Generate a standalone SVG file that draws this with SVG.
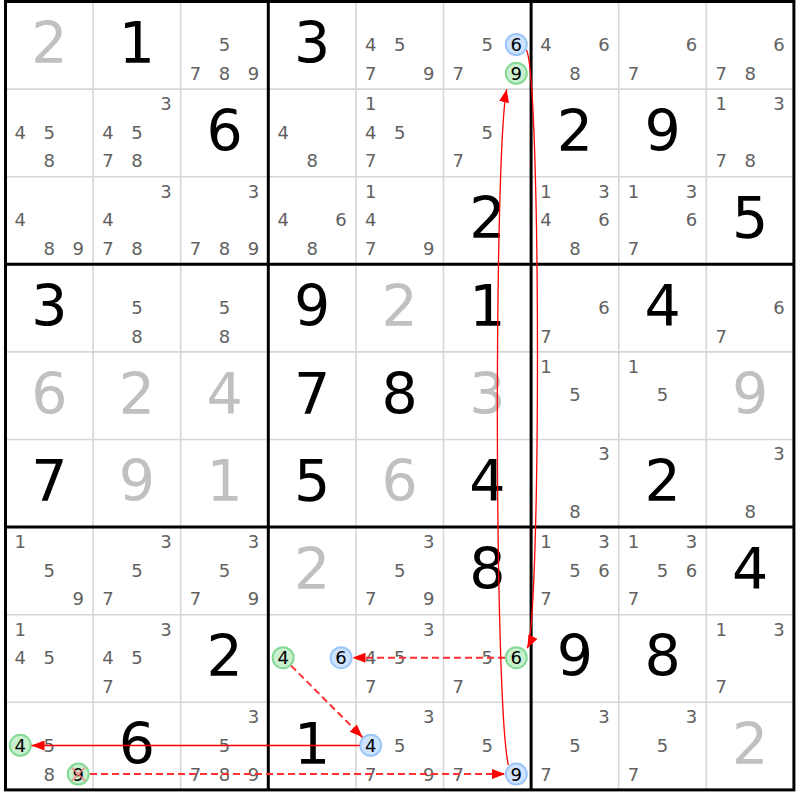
<svg xmlns="http://www.w3.org/2000/svg" width="800" height="800" viewBox="0 0 800 800">
<style>
.thin{stroke:#d6d6d6;stroke-width:1.6}
.thick{stroke:#000;stroke-width:3;fill:none}
text{font-family:"DejaVu Sans","Liberation Sans",sans-serif;text-anchor:middle}
.c{font-size:18px;fill:#616161}
.k{font-size:18px;fill:#000}
.b{font-size:57px;fill:#000}
.g{font-size:57px;fill:#c0c0c0}
.blue{fill:#cde3ff;stroke:#9cc6f7;stroke-width:2}
.green{fill:#c9f1cf;stroke:#84d994;stroke-width:2}
.x{stroke:#ff7a7a;stroke-width:2;opacity:0.75}
.link{fill:none;stroke:#f00;stroke-width:1.3}
.weak{fill:none;stroke:#ff3030;stroke-width:2;stroke-dasharray:7 4}
</style>
<defs>
<marker id="ah" viewBox="0 0 13 10" refX="13" refY="5" markerWidth="13" markerHeight="10" markerUnits="userSpaceOnUse" orient="auto">
<path d="M0,0 L13,5 L0,10 z" fill="#f00"/>
</marker>
</defs>
<rect x="0" y="0" width="800" height="800" fill="#fff"/>
<g id="grid">
<path class="thin" d="M93.1,1.5V789.9M180.7,1.5V789.9M355.9,1.5V789.9M443.5,1.5V789.9M618.7,1.5V789.9M706.3,1.5V789.9M5.5,89.1H793.9M5.5,176.7H793.9M5.5,351.9H793.9M5.5,439.5H793.9M5.5,614.7H793.9M5.5,702.3H793.9"/>
<path class="thick" d="M268.3,1.5V789.9M531.1,1.5V789.9M5.5,264.3H793.9M5.5,527.1H793.9"/>
<rect class="thick" x="5.5" y="1.5" width="788.4" height="788.4"/>
</g>
<!-- row 0 -->
<g id="r0c0" transform="translate(49.3,45.3)"><text class="g" y="17.8">2</text></g>
<g id="r0c1" transform="translate(136.9,45.3)"><text class="b" y="17.8">1</text></g>
<g id="r0c2" transform="translate(224.5,45.3)"><text class="c" x="0" y="5.7">5</text><text class="c" x="-29" y="34.5">7</text><text class="c" x="0" y="34.5">8</text><text class="c" x="29" y="34.5">9</text></g>
<g id="r0c3" transform="translate(312.1,45.3)"><text class="b" y="17.8">3</text></g>
<g id="r0c4" transform="translate(399.7,45.3)"><text class="c" x="-29" y="5.7">4</text><text class="c" x="0" y="5.7">5</text><text class="c" x="-29" y="34.5">7</text><text class="c" x="29" y="34.5">9</text></g>
<g id="r0c5" transform="translate(487.3,45.3)"><text class="c" x="0" y="5.7">5</text><circle class="blue" cx="29" cy="-0.8" r="10.5"/><text class="k" x="29" y="5.7">6</text><text class="c" x="-29" y="34.5">7</text><circle class="green" cx="29" cy="28" r="10.5"/><text class="k" x="29" y="34.5">9</text></g>
<g id="r0c6" transform="translate(574.9,45.3)"><text class="c" x="-29" y="5.7">4</text><text class="c" x="29" y="5.7">6</text><text class="c" x="0" y="34.5">8</text></g>
<g id="r0c7" transform="translate(662.5,45.3)"><text class="c" x="29" y="5.7">6</text><text class="c" x="-29" y="34.5">7</text></g>
<g id="r0c8" transform="translate(750.1,45.3)"><text class="c" x="29" y="5.7">6</text><text class="c" x="-29" y="34.5">7</text><text class="c" x="0" y="34.5">8</text></g>
<!-- row 1 -->
<g id="r1c0" transform="translate(49.3,132.9)"><text class="c" x="-29" y="5.7">4</text><text class="c" x="0" y="5.7">5</text><text class="c" x="0" y="34.5">8</text></g>
<g id="r1c1" transform="translate(136.9,132.9)"><text class="c" x="29" y="-23">3</text><text class="c" x="-29" y="5.7">4</text><text class="c" x="0" y="5.7">5</text><text class="c" x="-29" y="34.5">7</text><text class="c" x="0" y="34.5">8</text></g>
<g id="r1c2" transform="translate(224.5,132.9)"><text class="b" y="17.8">6</text></g>
<g id="r1c3" transform="translate(312.1,132.9)"><text class="c" x="-29" y="5.7">4</text><text class="c" x="0" y="34.5">8</text></g>
<g id="r1c4" transform="translate(399.7,132.9)"><text class="c" x="-29" y="-23">1</text><text class="c" x="-29" y="5.7">4</text><text class="c" x="0" y="5.7">5</text><text class="c" x="-29" y="34.5">7</text></g>
<g id="r1c5" transform="translate(487.3,132.9)"><text class="c" x="0" y="5.7">5</text><text class="c" x="-29" y="34.5">7</text></g>
<g id="r1c6" transform="translate(574.9,132.9)"><text class="b" y="17.8">2</text></g>
<g id="r1c7" transform="translate(662.5,132.9)"><text class="b" y="17.8">9</text></g>
<g id="r1c8" transform="translate(750.1,132.9)"><text class="c" x="-29" y="-23">1</text><text class="c" x="29" y="-23">3</text><text class="c" x="-29" y="34.5">7</text><text class="c" x="0" y="34.5">8</text></g>
<!-- row 2 -->
<g id="r2c0" transform="translate(49.3,220.5)"><text class="c" x="-29" y="5.7">4</text><text class="c" x="0" y="34.5">8</text><text class="c" x="29" y="34.5">9</text></g>
<g id="r2c1" transform="translate(136.9,220.5)"><text class="c" x="29" y="-23">3</text><text class="c" x="-29" y="5.7">4</text><text class="c" x="-29" y="34.5">7</text><text class="c" x="0" y="34.5">8</text></g>
<g id="r2c2" transform="translate(224.5,220.5)"><text class="c" x="29" y="-23">3</text><text class="c" x="-29" y="34.5">7</text><text class="c" x="0" y="34.5">8</text><text class="c" x="29" y="34.5">9</text></g>
<g id="r2c3" transform="translate(312.1,220.5)"><text class="c" x="-29" y="5.7">4</text><text class="c" x="29" y="5.7">6</text><text class="c" x="0" y="34.5">8</text></g>
<g id="r2c4" transform="translate(399.7,220.5)"><text class="c" x="-29" y="-23">1</text><text class="c" x="-29" y="5.7">4</text><text class="c" x="-29" y="34.5">7</text><text class="c" x="29" y="34.5">9</text></g>
<g id="r2c5" transform="translate(487.3,220.5)"><text class="b" y="17.8">2</text></g>
<g id="r2c6" transform="translate(574.9,220.5)"><text class="c" x="-29" y="-23">1</text><text class="c" x="29" y="-23">3</text><text class="c" x="-29" y="5.7">4</text><text class="c" x="29" y="5.7">6</text><text class="c" x="0" y="34.5">8</text></g>
<g id="r2c7" transform="translate(662.5,220.5)"><text class="c" x="-29" y="-23">1</text><text class="c" x="29" y="-23">3</text><text class="c" x="29" y="5.7">6</text><text class="c" x="-29" y="34.5">7</text></g>
<g id="r2c8" transform="translate(750.1,220.5)"><text class="b" y="17.8">5</text></g>
<!-- row 3 -->
<g id="r3c0" transform="translate(49.3,308.1)"><text class="b" y="17.8">3</text></g>
<g id="r3c1" transform="translate(136.9,308.1)"><text class="c" x="0" y="5.7">5</text><text class="c" x="0" y="34.5">8</text></g>
<g id="r3c2" transform="translate(224.5,308.1)"><text class="c" x="0" y="5.7">5</text><text class="c" x="0" y="34.5">8</text></g>
<g id="r3c3" transform="translate(312.1,308.1)"><text class="b" y="17.8">9</text></g>
<g id="r3c4" transform="translate(399.7,308.1)"><text class="g" y="17.8">2</text></g>
<g id="r3c5" transform="translate(487.3,308.1)"><text class="b" y="17.8">1</text></g>
<g id="r3c6" transform="translate(574.9,308.1)"><text class="c" x="29" y="5.7">6</text><text class="c" x="-29" y="34.5">7</text></g>
<g id="r3c7" transform="translate(662.5,308.1)"><text class="b" y="17.8">4</text></g>
<g id="r3c8" transform="translate(750.1,308.1)"><text class="c" x="29" y="5.7">6</text><text class="c" x="-29" y="34.5">7</text></g>
<!-- row 4 -->
<g id="r4c0" transform="translate(49.3,395.7)"><text class="g" y="17.8">6</text></g>
<g id="r4c1" transform="translate(136.9,395.7)"><text class="g" y="17.8">2</text></g>
<g id="r4c2" transform="translate(224.5,395.7)"><text class="g" y="17.8">4</text></g>
<g id="r4c3" transform="translate(312.1,395.7)"><text class="b" y="17.8">7</text></g>
<g id="r4c4" transform="translate(399.7,395.7)"><text class="b" y="17.8">8</text></g>
<g id="r4c5" transform="translate(487.3,395.7)"><text class="g" y="17.8">3</text></g>
<g id="r4c6" transform="translate(574.9,395.7)"><text class="c" x="-29" y="-23">1</text><text class="c" x="0" y="5.7">5</text></g>
<g id="r4c7" transform="translate(662.5,395.7)"><text class="c" x="-29" y="-23">1</text><text class="c" x="0" y="5.7">5</text></g>
<g id="r4c8" transform="translate(750.1,395.7)"><text class="g" y="17.8">9</text></g>
<!-- row 5 -->
<g id="r5c0" transform="translate(49.3,483.3)"><text class="b" y="17.8">7</text></g>
<g id="r5c1" transform="translate(136.9,483.3)"><text class="g" y="17.8">9</text></g>
<g id="r5c2" transform="translate(224.5,483.3)"><text class="g" y="17.8">1</text></g>
<g id="r5c3" transform="translate(312.1,483.3)"><text class="b" y="17.8">5</text></g>
<g id="r5c4" transform="translate(399.7,483.3)"><text class="g" y="17.8">6</text></g>
<g id="r5c5" transform="translate(487.3,483.3)"><text class="b" y="17.8">4</text></g>
<g id="r5c6" transform="translate(574.9,483.3)"><text class="c" x="29" y="-23">3</text><text class="c" x="0" y="34.5">8</text></g>
<g id="r5c7" transform="translate(662.5,483.3)"><text class="b" y="17.8">2</text></g>
<g id="r5c8" transform="translate(750.1,483.3)"><text class="c" x="29" y="-23">3</text><text class="c" x="0" y="34.5">8</text></g>
<!-- row 6 -->
<g id="r6c0" transform="translate(49.3,570.9)"><text class="c" x="-29" y="-23">1</text><text class="c" x="0" y="5.7">5</text><text class="c" x="29" y="34.5">9</text></g>
<g id="r6c1" transform="translate(136.9,570.9)"><text class="c" x="29" y="-23">3</text><text class="c" x="0" y="5.7">5</text><text class="c" x="-29" y="34.5">7</text></g>
<g id="r6c2" transform="translate(224.5,570.9)"><text class="c" x="29" y="-23">3</text><text class="c" x="0" y="5.7">5</text><text class="c" x="-29" y="34.5">7</text><text class="c" x="29" y="34.5">9</text></g>
<g id="r6c3" transform="translate(312.1,570.9)"><text class="g" y="17.8">2</text></g>
<g id="r6c4" transform="translate(399.7,570.9)"><text class="c" x="29" y="-23">3</text><text class="c" x="0" y="5.7">5</text><text class="c" x="-29" y="34.5">7</text><text class="c" x="29" y="34.5">9</text></g>
<g id="r6c5" transform="translate(487.3,570.9)"><text class="b" y="17.8">8</text></g>
<g id="r6c6" transform="translate(574.9,570.9)"><text class="c" x="-29" y="-23">1</text><text class="c" x="29" y="-23">3</text><text class="c" x="0" y="5.7">5</text><text class="c" x="29" y="5.7">6</text><text class="c" x="-29" y="34.5">7</text></g>
<g id="r6c7" transform="translate(662.5,570.9)"><text class="c" x="-29" y="-23">1</text><text class="c" x="29" y="-23">3</text><text class="c" x="0" y="5.7">5</text><text class="c" x="29" y="5.7">6</text><text class="c" x="-29" y="34.5">7</text></g>
<g id="r6c8" transform="translate(750.1,570.9)"><text class="b" y="17.8">4</text></g>
<!-- row 7 -->
<g id="r7c0" transform="translate(49.3,658.5)"><text class="c" x="-29" y="-23">1</text><text class="c" x="-29" y="5.7">4</text><text class="c" x="0" y="5.7">5</text></g>
<g id="r7c1" transform="translate(136.9,658.5)"><text class="c" x="29" y="-23">3</text><text class="c" x="-29" y="5.7">4</text><text class="c" x="0" y="5.7">5</text><text class="c" x="-29" y="34.5">7</text></g>
<g id="r7c2" transform="translate(224.5,658.5)"><text class="b" y="17.8">2</text></g>
<g id="r7c3" transform="translate(312.1,658.5)"><circle class="green" cx="-29" cy="-0.8" r="10.5"/><text class="k" x="-29" y="5.7">4</text><circle class="blue" cx="29" cy="-0.8" r="10.5"/><text class="k" x="29" y="5.7">6</text></g>
<g id="r7c4" transform="translate(399.7,658.5)"><text class="c" x="29" y="-23">3</text><text class="c" x="-29" y="5.7">4</text><text class="c" x="0" y="5.7">5</text><text class="c" x="-29" y="34.5">7</text></g>
<g id="r7c5" transform="translate(487.3,658.5)"><text class="c" x="0" y="5.7">5</text><circle class="green" cx="29" cy="-0.8" r="10.5"/><text class="k" x="29" y="5.7">6</text><text class="c" x="-29" y="34.5">7</text></g>
<g id="r7c6" transform="translate(574.9,658.5)"><text class="b" y="17.8">9</text></g>
<g id="r7c7" transform="translate(662.5,658.5)"><text class="b" y="17.8">8</text></g>
<g id="r7c8" transform="translate(750.1,658.5)"><text class="c" x="-29" y="-23">1</text><text class="c" x="29" y="-23">3</text><text class="c" x="-29" y="34.5">7</text></g>
<!-- row 8 -->
<g id="r8c0" transform="translate(49.3,746.1)"><circle class="green" cx="-29" cy="-0.8" r="10.5"/><text class="k" x="-29" y="5.7">4</text><text class="c" x="0" y="5.7">5</text><text class="c" x="0" y="34.5">8</text><circle class="green" cx="29" cy="28" r="10.5"/><text class="k" x="29" y="34.5">9</text><path class="x" d="M22.5,21.5L35.5,34.5M35.5,21.5L22.5,34.5"/></g>
<g id="r8c1" transform="translate(136.9,746.1)"><text class="b" y="17.8">6</text></g>
<g id="r8c2" transform="translate(224.5,746.1)"><text class="c" x="29" y="-23">3</text><text class="c" x="0" y="5.7">5</text><text class="c" x="-29" y="34.5">7</text><text class="c" x="0" y="34.5">8</text><text class="c" x="29" y="34.5">9</text></g>
<g id="r8c3" transform="translate(312.1,746.1)"><text class="b" y="17.8">1</text></g>
<g id="r8c4" transform="translate(399.7,746.1)"><text class="c" x="29" y="-23">3</text><circle class="blue" cx="-29" cy="-0.8" r="10.5"/><text class="k" x="-29" y="5.7">4</text><text class="c" x="0" y="5.7">5</text><text class="c" x="-29" y="34.5">7</text><text class="c" x="29" y="34.5">9</text></g>
<g id="r8c5" transform="translate(487.3,746.1)"><text class="c" x="0" y="5.7">5</text><text class="c" x="-29" y="34.5">7</text><circle class="blue" cx="29" cy="28" r="10.5"/><text class="k" x="29" y="34.5">9</text></g>
<g id="r8c6" transform="translate(574.9,746.1)"><text class="c" x="29" y="-23">3</text><text class="c" x="0" y="5.7">5</text><text class="c" x="-29" y="34.5">7</text></g>
<g id="r8c7" transform="translate(662.5,746.1)"><text class="c" x="29" y="-23">3</text><text class="c" x="0" y="5.7">5</text><text class="c" x="-29" y="34.5">7</text></g>
<g id="r8c8" transform="translate(750.1,746.1)"><text class="g" y="17.8">2</text></g>
<g id="connectors">
<path class="link" d="M359.7,745.5L31.5,745.5" marker-end="url(#ah)"/>
<path class="weak" d="M90,774.1L505,774.1" marker-end="url(#ah)"/>
<path class="weak" d="M505,657.7L352.5,657.7" marker-end="url(#ah)"/>
<path class="weak" d="M291,665.6L362.5,737.2" marker-end="url(#ah)"/>
<path class="link" d="M526.5,50C541,80 541,620 527.3,648.3" marker-end="url(#ah)"/>
<path class="link" d="M508.3,765C494,700 494,150 506.7,89.3" marker-end="url(#ah)"/>
</g>
</svg>
